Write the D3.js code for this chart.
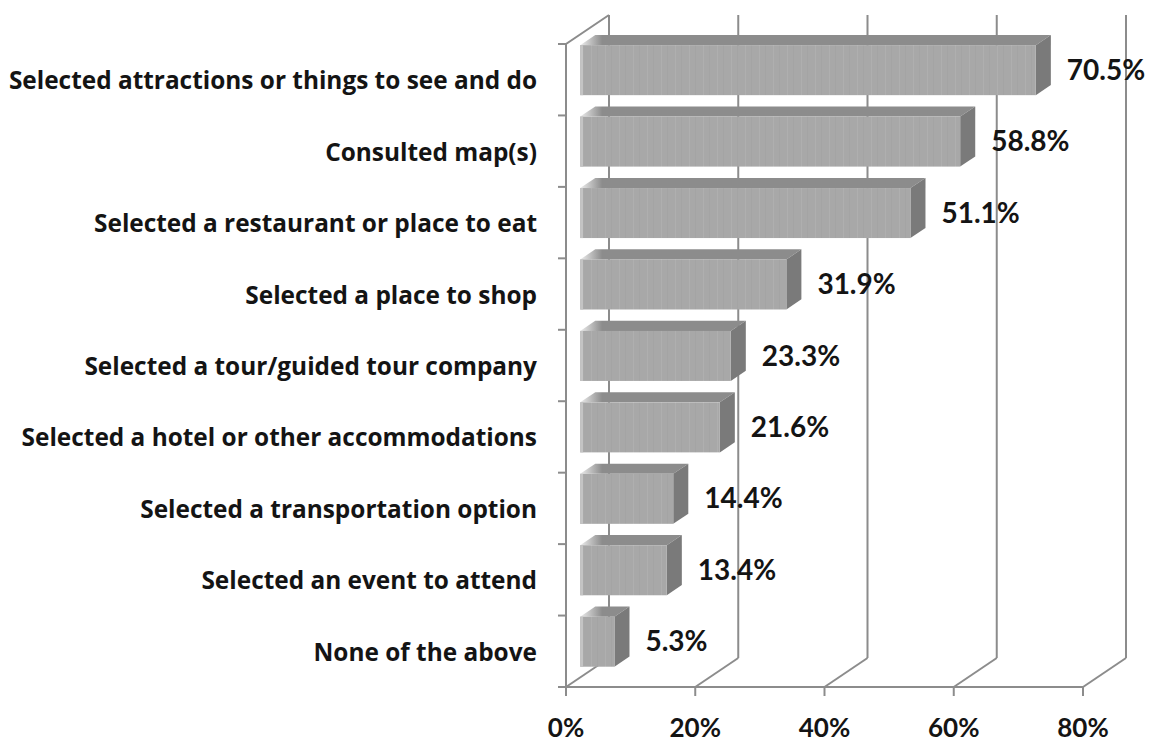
<!DOCTYPE html>
<html>
<head>
<meta charset="utf-8">
<script src="https://cdn.jsdelivr.net/npm/d3@7"></script>
<style>
  html, body { margin: 0; padding: 0; background: #fff; }
  svg { display: block; }
  text { font-weight: 700; fill: #141414; }
  .cat { font-family: "Open Sans", Lato, "DejaVu Sans", sans-serif; }
  .num { font-family: Lato, "Open Sans", "DejaVu Sans", sans-serif; }
</style>
</head>
<body>
<svg id="chart" width="1156" height="743"></svg>
<script>
// Share of respondents who used the source for each activity
const categories = [
  "Selected attractions or things to see and do",
  "Consulted map(s)",
  "Selected a restaurant or place to eat",
  "Selected a place to shop",
  "Selected a tour/guided tour company",
  "Selected a hotel or other accommodations",
  "Selected a transportation option",
  "Selected an event to attend",
  "None of the above"
];
const values = [70.5, 58.8, 51.1, 31.9, 23.3, 21.6, 14.4, 13.4, 5.3];
const tickValues = [0, 20, 40, 60, 80];

const svg = d3.select("#chart");

// Front plane of the 3D box
const x = d3.scaleLinear().domain([0, 80]).range([566, 1083]);
const y = d3.scaleBand().domain(categories).range([44, 687])
  .paddingInner(0.3).paddingOuter(0.15);
const step = y.step();
const floorY = 687, topY = 44;

// Oblique depth projection: depth d in [0,1] shifts right and up
const DX = 43, DY = 29;
const P = (px, py, d) => [px + DX * d, py - DY * d];
const d0 = 0.33, d1 = 0.68;   // front and back of each bar

const gridColor = "#8c8c8c";

const defs = svg.append("defs");
const stripes = defs.append("pattern").attr("id", "stripes")
  .attr("patternUnits", "userSpaceOnUse").attr("width", 14).attr("height", 10);
stripes.append("rect").attr("width", 14).attr("height", 10).attr("fill", "#a8a8a8");
stripes.append("rect").attr("x", 3).attr("width", 1).attr("height", 10).attr("fill", "#afafaf");
stripes.append("rect").attr("x", 9).attr("width", 1).attr("height", 10).attr("fill", "#a4a4a4");

const topGrad = defs.append("linearGradient").attr("id", "topGrad")
  .attr("gradientUnits", "userSpaceOnUse")
  .attr("x1", x(0) + DX * d0).attr("x2", x(0) + DX * d0 + 22)
  .attr("y1", 0).attr("y2", 0);
topGrad.append("stop").attr("offset", 0).attr("stop-color", "#ececec");
topGrad.append("stop").attr("offset", 1).attr("stop-color", "#8c8c8c");

const line = d3.line();

// Back wall gridlines
svg.append("g").selectAll("line").data(tickValues).join("line")
  .attr("x1", d => P(x(d), topY, 1)[0]).attr("y1", P(x(0), topY, 1)[1])
  .attr("x2", d => P(x(d), floorY, 1)[0]).attr("y2", P(x(0), floorY, 1)[1])
  .attr("stroke", gridColor).attr("stroke-width", 2);

// Floor diagonals
svg.append("g").selectAll("path").data(tickValues).join("path")
  .attr("d", d => line([P(x(d), floorY, 0), P(x(d), floorY, 1)]))
  .attr("fill", "none").attr("stroke", gridColor).attr("stroke-width", 2);

// Side wall: front edge, top edge
svg.append("path")
  .attr("d", line([P(x(0), floorY, 0), P(x(0), topY, 0), P(x(0), topY, 1)]))
  .attr("fill", "none").attr("stroke", gridColor).attr("stroke-width", 2);

// Category ticks on the side wall
const bounds = d3.range(categories.length + 1).map(i => topY + i * step);
svg.append("g").selectAll("line").data(bounds).join("line")
  .attr("x1", x(0) - 8).attr("x2", x(0)).attr("y1", d => d).attr("y2", d => d)
  .attr("stroke", gridColor).attr("stroke-width", 2);

// Front axis line and ticks
svg.append("line").attr("x1", x(0) - 8).attr("x2", x(80))
  .attr("y1", floorY).attr("y2", floorY)
  .attr("stroke", gridColor).attr("stroke-width", 2);
svg.append("g").selectAll("line").data(tickValues).join("line")
  .attr("x1", d => x(d)).attr("x2", d => x(d))
  .attr("y1", floorY).attr("y2", floorY + 9)
  .attr("stroke", gridColor).attr("stroke-width", 2);

// Bars
const bars = svg.append("g").selectAll("g").data(categories).join("g");
bars.each(function(c, i) {
  const g = d3.select(this);
  const v = values[i];
  const t = y(c), b = y(c) + y.bandwidth();
  const xl = x(0), xr = x(v);
  // top face
  g.append("path")
    .attr("d", line([P(xl, t, d0), P(xr, t, d0), P(xr, t, d1), P(xl, t, d1)]) + "Z")
    .attr("fill", "url(#topGrad)");
  // right end face
  g.append("path")
    .attr("d", line([P(xr, t, d0), P(xr, t, d1), P(xr, b, d1), P(xr, b, d0)]) + "Z")
    .attr("fill", "#7a7a7a");
  // front face
  const [fx, fy] = P(xl, t, d0);
  g.append("rect")
    .attr("x", fx).attr("y", fy)
    .attr("width", xr - xl).attr("height", b - t)
    .attr("fill", "url(#stripes)");
  g.append("rect")
    .attr("x", fx).attr("y", fy)
    .attr("width", 3).attr("height", b - t)
    .attr("fill", "#c4c4c4");
});

// Category labels
svg.append("g").selectAll("text").data(categories).join("text")
  .attr("class", "cat")
  .attr("x", 537).attr("y", d => y(d) + y.bandwidth() / 2)
  .attr("text-anchor", "end").attr("dominant-baseline", "central")
  .attr("font-size", 24.4)
  .text(d => d);

// Value labels
svg.append("g").selectAll("text").data(categories).join("text")
  .attr("class", "num")
  .attr("x", (d, i) => P(x(values[i]), 0, d1)[0] + 16)
  .attr("y", d => y(d) + y.bandwidth() / 2 - 11)
  .attr("dominant-baseline", "central")
  .attr("font-size", 28)
  .text((d, i) => values[i].toFixed(1) + "%");

// Axis tick labels
svg.append("g").selectAll("text").data(tickValues).join("text")
  .attr("class", "num")
  .attr("x", d => x(d)).attr("y", 737)
  .attr("text-anchor", "middle")
  .attr("font-size", 26)
  .text(d => d + "%");
</script>
</body>
</html>
